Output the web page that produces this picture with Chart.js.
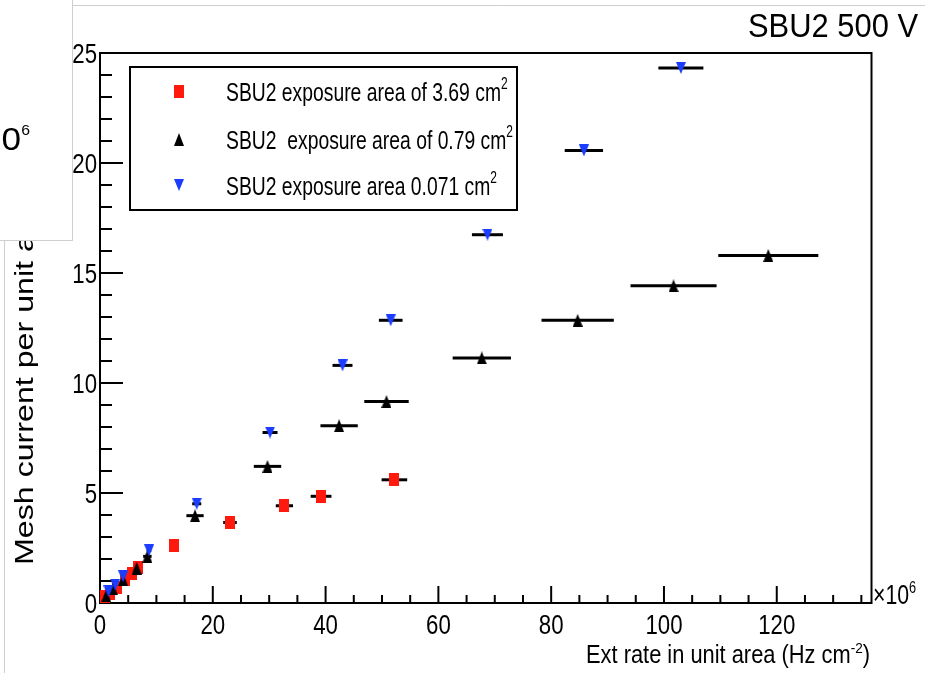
<!DOCTYPE html>
<html>
<head>
<meta charset="utf-8">
<title>SBU2 500 V</title>
<script src="https://cdn.jsdelivr.net/npm/chart.js@4.4.0/dist/chart.umd.min.js"></script>
<style>
  html, body { margin: 0; padding: 0; background: #fff; }
  canvas { display: block; }
</style>
</head>
<body>
<canvas id="grafico" width="925" height="673"></canvas>
<script>
// Serie 3.69 cm2 (cuadrados rojos): tasa en 1e6 Hz/cm2, corriente y error horizontal
const xRojo   = [0.8, 1.8, 3.0, 4.4, 5.6, 6.7, 13.1, 23.05, 32.7, 39.2, 52.2];
const yRojo   = [0.30, 0.45, 0.70, 1.05, 1.35, 1.60, 2.60, 3.66, 4.42, 4.85, 5.60];
const errRojo = [0.10, 0.15, 0.20, 0.30, 0.35, 0.40, 0.60, 1.21, 1.53, 1.84, 2.27];

// Serie 0.79 cm2 (triángulos negros)
const xNegro   = [1.1, 2.3, 4.1, 6.5, 8.4, 16.85, 29.7, 42.4, 50.8, 67.7, 84.7, 101.7, 118.5];
const yNegro   = [0.33, 0.65, 1.06, 1.59, 2.12, 3.97, 6.21, 8.06, 9.16, 11.14, 12.85, 14.42, 15.80];
const errNegro = [0.15, 0.25, 0.40, 0.60, 0.75, 1.53, 2.43, 3.31, 3.94, 5.17, 6.41, 7.63, 8.87];

// Serie 0.071 cm2 (triángulos azules invertidos)
const xAzul   = [1.5, 2.7, 4.1, 8.7, 17.15, 30.15, 43.0, 51.55, 68.7, 85.8, 103.0];
const yAzul   = [0.53, 0.83, 1.21, 2.39, 4.51, 7.75, 10.80, 12.85, 16.74, 20.57, 24.32];
const errAzul = [0.10, 0.15, 0.25, 0.40, 0.80, 1.33, 1.77, 2.10, 2.75, 3.40, 3.99];

// Marcas de los ejes
const ticksX = [0, 20, 40, 60, 80, 100, 120];
const ticksY = [0, 5, 10, 15, 20, 25];

// Textos de la leyenda: [texto, superíndice]
const nombresSeries = [
    ['SBU2 exposure area of 3.69 cm', '2'],
    ['SBU2  exposure area of 0.79 cm', '2'],
    ['SBU2 exposure area 0.071 cm', '2']
];

const FUENTE = '"Liberation Sans", Arial, sans-serif';

// Marcador dibujado en un canvas pequeño (cuadrado, triángulo o triángulo invertido)
function crearMarcador(tipo, color, ancho, alto) {
    const c = document.createElement('canvas');
    c.width = ancho;
    c.height = alto;
    const g = c.getContext('2d');
    g.fillStyle = color;
    g.beginPath();
    if (tipo === 'cuadrado') {
        g.rect(0, 0, ancho, alto);
    } else if (tipo === 'arriba') {
        g.moveTo(ancho / 2, 0);
        g.lineTo(ancho, alto);
        g.lineTo(0, alto);
    } else {
        g.moveTo(0, 0);
        g.lineTo(ancho, 0);
        g.lineTo(ancho / 2, alto);
    }
    g.closePath();
    g.fill();
    return c;
}

const marcaRoja = crearMarcador('cuadrado', '#ff1a0d', 10, 13);
const marcaNegra = crearMarcador('arriba', '#000000', 10, 13);
const marcaAzul = crearMarcador('abajo', '#1a3dff', 10, 12);

// Ancho natural de un texto con partes en superíndice
function anchoTexto(ctx, partes, tam, factorSup) {
    let total = 0;
    partes.forEach(([t, sup]) => {
        ctx.font = (sup ? tam * factorSup : tam) + 'px ' + FUENTE;
        total += ctx.measureText(t).width;
    });
    return total;
}

// Dibuja texto (con superíndices) comprimido horizontalmente por sx
function textoRico(ctx, partes, x, y, tam, sx, align, factorSup = 0.62, subida = 0.4) {
    ctx.save();
    const total = anchoTexto(ctx, partes, tam, factorSup) * sx;
    let cx = align === 'right' ? x - total : align === 'center' ? x - total / 2 : x;
    partes.forEach(([t, sup]) => {
        const f = sup ? tam * factorSup : tam;
        ctx.font = f + 'px ' + FUENTE;
        const w = ctx.measureText(t).width;
        ctx.save();
        ctx.translate(cx, y + (sup ? -tam * subida : 0));
        ctx.scale(sx, 1);
        ctx.textAlign = 'left';
        ctx.textBaseline = 'alphabetic';
        ctx.fillStyle = '#000';
        ctx.fillText(t, 0, 0);
        ctx.restore();
        cx += w * sx;
    });
    ctx.restore();
}

function linea(ctx, x1, y1, x2, y2) {
    ctx.beginPath();
    ctx.moveTo(x1, y1);
    ctx.lineTo(x2, y2);
    ctx.stroke();
}

// Barras de error horizontales, marco y marcas de los ejes
const pluginEjes = {
    id: 'ejesRoot',
    beforeDatasetsDraw(chart) {
        const ctx = chart.ctx;
        const { x: ex, y: ey } = chart.scales;
        const area = chart.chartArea;

        ctx.save();
        ctx.strokeStyle = '#000';
        ctx.lineWidth = 3;
        ctx.lineCap = 'butt';
        chart.data.datasets.forEach(ds => {
            ds.data.forEach((p, i) => {
                const py = ey.getPixelForValue(p.y);
                linea(ctx, ex.getPixelForValue(p.x - ds.errX[i]), py, ex.getPixelForValue(p.x + ds.errX[i]), py);
            });
        });

        // marco del gráfico
        ctx.lineWidth = 2;
        ctx.strokeRect(area.left, area.top, area.right - area.left, area.bottom - area.top);

        // marcas del eje Y (mayores cada 5, menores cada 1)
        for (let v = 0; v <= 25; v += 1) {
            const py = ey.getPixelForValue(v);
            const largo = v % 5 === 0 ? 23 : 12;
            linea(ctx, area.left, py, area.left + largo, py);
        }
        // marcas del eje X (mayores cada 20, menores cada 5)
        for (let v = 0; v <= ex.max; v += 5) {
            const px = ex.getPixelForValue(v);
            const largo = v % 20 === 0 ? 17 : 8;
            linea(ctx, px, area.bottom, px, area.bottom - largo);
        }
        ctx.restore();
    },
    afterDraw(chart) {
        const ctx = chart.ctx;
        const { x: ex, y: ey } = chart.scales;
        const area = chart.chartArea;

        // etiquetas de los ejes
        ticksY.forEach(v => {
            textoRico(ctx, [[String(v), false]], area.left - 3, ey.getPixelForValue(v) + 10, 28.5, 0.78, 'right');
        });
        ticksX.forEach(v => {
            textoRico(ctx, [[String(v), false]], ex.getPixelForValue(v), 633.5, 28.5, 0.78, 'center');
        });
        textoRico(ctx, [['\u00d710', false], ['6', true]], 873, 604, 28, 0.76, 'left', 0.6);

        // título del eje X ajustado al extremo derecho
        const tituloX = [['Ext rate in unit area (Hz cm', false], ['-2', true], [')', false]];
        const sxX = 284 / anchoTexto(ctx, tituloX, 25, 0.62);
        textoRico(ctx, tituloX, 870, 663, 25, sxX, 'right');

        // título del eje Y, girado
        const sxY = 313 / anchoTexto(ctx, [['Mesh current per unit ', false]], 25, 0.62);
        ctx.save();
        ctx.translate(33, 565);
        ctx.rotate(-Math.PI / 2);
        textoRico(ctx, [['Mesh current per unit area', false]], 0, 0, 25, sxY, 'left');
        ctx.restore();

        // leyenda
        ctx.save();
        ctx.fillStyle = '#fff';
        ctx.fillRect(130, 67, 387, 143);
        ctx.strokeStyle = '#000';
        ctx.lineWidth = 2;
        ctx.strokeRect(130, 67, 387, 143);
        ctx.restore();
        const marcas = [marcaRoja, marcaNegra, marcaAzul];
        const filas = [91, 139, 185];
        const sxL = 275 / anchoTexto(ctx, [[nombresSeries[0][0], false]], 26, 0.62);
        nombresSeries.forEach(([t, sup], i) => {
            const m = marcas[i];
            ctx.drawImage(m, Math.round(178.5 - m.width / 2), Math.round(filas[i] - m.height / 2));
            textoRico(ctx, [[t, false], [sup, true]], 226, filas[i] + 10, 26, sxL, 'left', 0.62, 0.45);
        });

        // rótulo superior derecho
        const rotulo = [['SBU2 500 V', false]];
        textoRico(ctx, rotulo, 918, 37, 33, 170 / anchoTexto(ctx, rotulo, 33, 0.62), 'right');

        // bordes grises de la figura
        ctx.save();
        ctx.strokeStyle = '#cfcfcf';
        ctx.lineWidth = 1;
        linea(ctx, 72, 5.5, 925, 5.5);
        linea(ctx, 4.5, 240, 4.5, 673);

        // recuadro superpuesto en la esquina superior izquierda
        ctx.fillStyle = '#fff';
        ctx.fillRect(0, 0, 72, 240);
        linea(ctx, 72.5, 0, 72.5, 241);
        linea(ctx, 0, 240.5, 72.5, 240.5);
        ctx.beginPath();
        ctx.rect(0, 0, 72, 240);
        ctx.clip();
        textoRico(ctx, [['\u00d710', false], ['6', true]], 30, 150, 32, 1.1, 'right', 0.45, 0.47);
        ctx.restore();
    }
};

function armarSerie(xs, ys, errs, marca, orden) {
    return {
        data: xs.map((x, i) => ({ x: x, y: ys[i] })),
        errX: errs,
        pointStyle: marca,
        pointRadius: 6,
        showLine: false,
        clip: false,
        order: orden
    };
}

new Chart(document.getElementById('grafico').getContext('2d'), {
    type: 'scatter',
    data: {
        datasets: [
            armarSerie(xRojo, yRojo, errRojo, marcaRoja, 3),
            armarSerie(xNegro, yNegro, errNegro, marcaNegra, 2),
            armarSerie(xAzul, yAzul, errAzul, marcaAzul, 1)
        ]
    },
    options: {
        responsive: false,
        animation: false,
        events: [],
        layout: { padding: { left: 100, top: 53, right: 53.5, bottom: 70 } },
        scales: {
            x: { type: 'linear', min: 0, max: 136.8, display: false },
            y: { type: 'linear', min: 0, max: 25, display: false }
        },
        plugins: {
            legend: { display: false },
            tooltip: { enabled: false }
        }
    },
    plugins: [pluginEjes]
});
</script>
</body>
</html>
